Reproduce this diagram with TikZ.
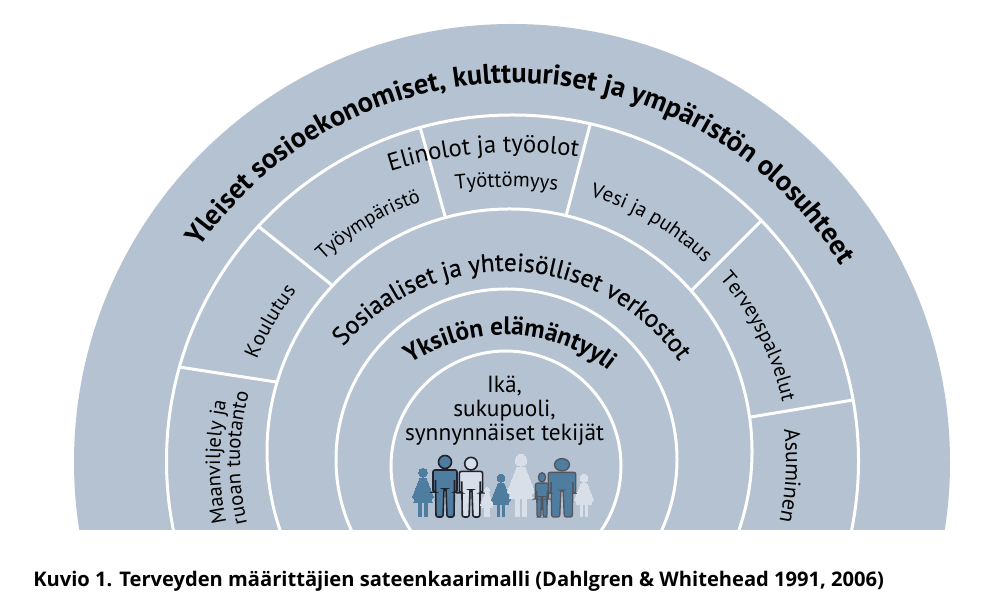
\documentclass[tikz,border=0pt]{standalone}
\usepackage{fontspec}
\setmainfont{PT Sans}
\newfontfamily\capfont{Open Sans}
\newfontface\semifont[FakeBold=0.5]{PT Sans}
\usetikzlibrary{decorations.text}
\definecolor{rainbow}{RGB}{180,194,209}
\definecolor{figblue}{RGB}{79,125,160}
\definecolor{figpale}{RGB}{216,223,232}
\definecolor{figdark}{RGB}{30,35,45}
\definecolor{figgrey}{RGB}{85,85,95}
\tikzset{
  ring/.style={draw=white,line width=2.25pt},
  divider/.style={draw=white,line width=2.25pt},
}
\newcommand\fA{\fontsize{15.5pt}{15pt}\selectfont}
\newcommand\fF{\fontsize{15pt}{15pt}\selectfont}
\newcommand\fG{\fontsize{16.5pt}{15pt}\selectfont}
\newcommand\fC{\fontsize{18.5pt}{18pt}\selectfont}
\newcommand\fS{\fontsize{19pt}{18pt}\selectfont\semifont}
\newcommand\fB{\fontsize{19pt}{18pt}\selectfont\bfseries}
\newcommand\fD{\fontsize{21.3pt}{20pt}\selectfont\bfseries}
\newcommand\fE{\fontsize{17.5pt}{18pt}\selectfont}
% cx, cy (image px), r, mid angle, half span, font, text
\newcommand\arctext[7]{%
  \path[decorate,decoration={text along path,text align=center,text={|#6|#7}}]
    ({#1+#3*cos(#4+#5)},{598-#2+#3*sin(#4+#5)}) arc[start angle=#4+#5,end angle=#4-#5,radius=#3];}
% x, feet y, scale options, fill, draw, line width
\newcommand\figman[6]{%
  \begin{scope}[shift={(#1,598-#2)},#3]
    \fill[#4,draw=#5,line width=#6] (0,55) circle[radius=6.5];
    \filldraw[fill=#4,draw=#5,line width=#6,rounded corners=1.5pt]
      (-12,25)--(-12,47)--(12,47)--(12,25)--(9.5,25)--(9.5,38)--(9,0)--(2,0)--(1,28)--(-1,28)--(-2,0)--(-9,0)--(-9.5,38)--(-9.5,25)--cycle;
  \end{scope}}
\newcommand\figwoman[6]{%
  \begin{scope}[shift={(#1,598-#2)},#3]
    \fill[#4,draw=#5,line width=#6] (0,54) circle[radius=5.5];
    \filldraw[fill=#4,draw=#5,line width=#6]
      (-4,47)--(4,47)--(13,24)--(11,22)--(4.5,40)--(11,18)--(5,18)--(5,0)--(1.6,0)--(1.6,18)--(-1.6,18)--(-1.6,0)--(-5,0)--(-5,18)--(-11,18)--(-4.5,40)--(-11,22)--(-13,24)--cycle;
  \end{scope}}
\begin{document}
\begin{tikzpicture}[x=0.75pt,y=0.75pt]
\useasboundingbox (0,0) rectangle (1002,598);
\begin{scope}
  \clip (0,68) rectangle (1002,598);
  \fill[rainbow] (512,598-462) circle[radius=438];
  \draw[ring] (512.5,598-461) circle[radius=346];
  \draw[ring] (509.5,598-451.5) circle[radius=242.5];
  \draw[ring] (506.5,598-459.5) circle[radius=170.5];
  \draw[ring] (506,598-466) circle[radius=115];
  \draw[divider] (179,598-367) -- (276,598-382);
  \draw[divider] (258,598-226) -- (333,598-286);
  \draw[divider] (420,598-127) -- (445,598-216);
  \draw[divider] (590,598-125) -- (566,598-216);
  \draw[divider] (762,598-220) -- (692,598-290);
  \draw[divider] (853,598-400) -- (751,598-417);
  \arctext{512}{462}{292}{180}{32}{\fA}{Maanviljely ja}
  \arctext{512}{462}{272}{179.2}{32}{\fA}{ruoan tuotanto}
  \arctext{512}{462}{275}{149.8}{25}{\fA}{Koulutus}
  \arctext{512}{462}{276}{121.2}{25}{\fF}{Työympäristö}
  \arctext{506.5}{622}{435}{90}{15}{\fA}{Työttömyys}
  \arctext{512}{462}{277}{59.8}{25}{\fA}{Vesi ja puhtaus}
  \arctext{512}{462}{277}{27}{25}{\fA}{Terveyspalvelut}
  \arctext{512}{462}{274}{-2.85}{25}{\fG}{Asuminen}
  \arctext{515}{565}{413}{94.4}{25}{\fC}{Elinolot ja työolot}
  \arctext{505.5}{483}{212}{87.5}{70}{\fS}{Sosiaaliset ja yhteisölliset verkostot}
  \arctext{505}{504}{169}{88}{70}{\fB}{Yksilön elämäntyyli}
  \arctext{514.5}{466}{383}{88.4}{75}{\fD}{Yleiset sosioekonomiset, kulttuuriset ja ympäristön olosuhteet}
\end{scope}
\node[align=center,font=\fE,inner sep=0pt,text=black] (inner) at (504.5,598-411)
  {Ikä,\\sukupuoli,\\synnynnäiset tekijät};
\figwoman{423}{517}{scale=0.82}{figblue}{figblue}{0pt}
\figman{445}{517}{scale=1}{figblue}{figdark}{1.2pt}
\figman{471}{517}{scale=0.97}{figpale}{figdark}{1.2pt}
\figwoman{487}{517}{scale=0.5}{figpale}{figpale}{0pt}
\figwoman{501}{517}{scale=0.72}{figblue}{figblue}{0pt}
\figwoman{521}{517}{scale=1.05}{figpale}{figpale}{0pt}
\figman{542}{517}{xscale=0.55,yscale=0.72}{figblue}{figgrey}{1pt}
\figman{562}{517}{xscale=1.15,yscale=0.95}{figblue}{figgrey}{1pt}
\figwoman{584}{517}{scale=0.72}{figpale}{figpale}{0pt}
\node[anchor=base west,inner sep=0pt,font=\capfont\fontsize{15.1pt}{16pt}\selectfont\bfseries,text=black] (caption) at (33,598-587)
  {Kuvio 1. Terveyden määrittäjien sateenkaarimalli (Dahlgren \& Whitehead 1991, 2006)};
\end{tikzpicture}
\end{document}
